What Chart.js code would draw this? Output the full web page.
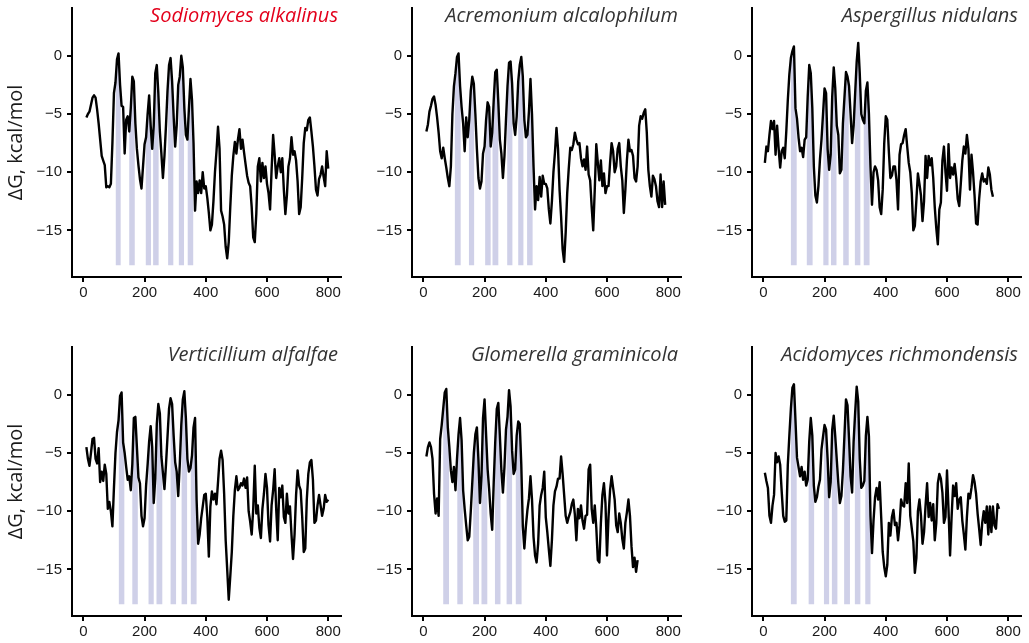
<!DOCTYPE html>
<html>
<head>
<meta charset="utf-8">
<script src="https://cdn.jsdelivr.net/npm/chart.js@4.4.1/dist/chart.umd.min.js"></script>
<style>
body { margin:0; width:1029px; height:643px; overflow:hidden; background:#fff; position:relative; }
canvas { position:absolute; }
.title { position:absolute; width:338px; text-align:right; font-family:"Open Sans", sans-serif; font-style:italic; font-size:20px; line-height:24px; color:#333; white-space:nowrap; }
</style>
</head>
<body>
<script>
// Data: ΔG along the sequence, one value every X_STEP positions
const X_STEP = 5;
const xTicks = [0, 200, 400, 600, 800];
const yTicks = [-15, -10, -5, 0];

const sodiomycesStart = 10;
const sodiomycesDG = [
  -5.3, -5.0, -4.8, -4.2, -3.6, -3.4, -3.6, -4.6, -5.8, -7.2,
  -8.6, -9.0, -9.4, -11.3, -11.2, -11.3, -11.0, -7.5, -3.2, -2.3,
  -0.3, 0.2, -2.5, -4.3, -4.4, -8.4, -5.5, -5.2, -6.5, -4.5,
  -1.8, -2.2, -5.8, -8.0, -9.4, -10.6, -11.4, -9.5, -7.6, -7.0,
  -5.0, -3.4, -6.0, -8.0, -6.0, -1.5, -0.8, -3.2, -6.5, -8.4,
  -10.5, -8.6, -6.0, -3.0, -0.8, -0.2, -2.2, -5.2, -7.8, -6.0,
  -2.5, -1.8, 0.0, -1.0, -4.5, -6.8, -7.2, -4.5, -2.0, -3.8,
  -7.5, -13.3, -10.8, -11.8, -10.7, -11.8, -10.0, -11.4, -11.2, -12.2,
  -13.5, -15.0, -14.5, -12.5, -10.0, -8.2, -6.1, -8.0, -13.3, -13.8,
  -14.5, -16.4, -17.4, -16.0, -13.0, -10.3, -8.6, -7.4, -8.4, -7.2,
  -6.3, -8.0, -7.2, -8.3, -9.3, -10.3, -10.9, -11.2, -13.0, -15.6,
  -16.0, -13.6, -9.5, -8.8, -10.8, -9.2, -10.5, -9.5, -11.0, -11.8,
  -13.2, -9.8, -6.8, -8.5, -10.5, -9.5, -8.8, -10.0, -8.8, -11.5,
  -13.6, -12.0, -9.5, -8.8, -7.0, -8.5, -8.2, -9.0, -10.8, -13.6,
  -13.0, -10.5, -7.5, -6.2, -6.4, -5.5, -5.3, -6.5, -7.8, -9.5,
  -11.5, -12.0, -10.6, -10.2, -9.5, -10.4, -11.2, -8.2, -9.7
];
const sodiomycesBands = [[106,122],[150,168],[204,221],[228,246],[277,294],[312,329],[341,359]];

const acremoniumStart = 10;
const acremoniumDG = [
  -6.5, -5.9, -4.8, -4.3, -3.7, -3.5, -4.2, -5.3, -6.6, -8.2,
  -8.8, -7.9, -8.8, -9.6, -10.5, -11.2, -9.5, -5.0, -2.6, -1.5,
  -0.1, 0.2, -2.6, -4.4, -5.8, -8.2, -5.3, -7.0, -5.5, -3.0,
  -1.8, -2.4, -5.0, -8.0, -10.5, -11.4, -10.8, -8.4, -7.8, -5.5,
  -4.0, -4.4, -7.8, -6.6, -3.8, -1.4, -1.2, -4.0, -7.2, -8.4,
  -10.5, -8.6, -5.5, -2.6, -0.6, -0.5, -2.4, -5.8, -6.8, -5.2,
  -2.2, -0.8, -0.1, -1.8, -5.5, -7.0, -6.8, -4.8, -2.0, -5.0,
  -9.5, -13.2, -11.2, -12.4, -10.4, -12.1, -10.3, -11.0, -11.0, -11.4,
  -13.2, -14.4, -12.5, -10.0, -8.3, -6.2, -8.0, -11.5, -13.8, -16.6,
  -17.7, -15.2, -11.8, -9.7, -7.9, -8.1, -7.6, -6.6, -7.2, -7.6,
  -7.5, -8.8, -9.5, -8.9, -9.8, -7.8, -10.2, -10.7, -13.0, -15.0,
  -11.5, -7.6, -9.2, -10.7, -9.0, -11.2, -10.1, -11.8, -11.2, -11.2,
  -9.2, -7.5, -8.2, -10.0, -9.5, -8.0, -7.5, -9.5, -10.7, -13.5,
  -11.5, -9.0, -7.2, -8.2, -8.1, -8.6, -10.5, -10.8, -9.5, -6.0,
  -5.2, -5.4, -4.9, -4.6, -6.6, -9.8, -11.2, -12.1, -10.3, -10.6,
  -11.2, -12.5, -13.0, -10.2, -13.0, -10.8, -12.8
];
const acremoniumBands = [[103,122],[149,166],[202,220],[226,245],[274,291],[310,327],[339,357]];

const aspergillusStart = 5;
const aspergillusDG = [
  -9.2, -7.8, -8.2, -6.8, -5.6, -6.3, -5.6, -8.5, -6.0, -8.0,
  -9.6, -8.2, -7.9, -8.8, -6.5, -3.8, -1.6, -0.2, 0.4, 0.8,
  -4.5, -5.4, -7.0, -8.2, -7.9, -8.7, -7.2, -7.0, -3.5, -0.8,
  -1.5, -4.5, -9.5, -12.0, -12.6, -11.2, -8.9, -7.2, -5.0, -2.8,
  -3.2, -8.0, -9.8, -8.5, -3.5, -1.0, -2.8, -6.0, -6.8, -10.1,
  -9.8, -5.8, -3.6, -1.4, -1.8, -2.6, -5.0, -7.5, -6.0, -3.2,
  -0.5, 1.1, -1.5, -5.0, -5.5, -5.8, -3.0, -2.3, -5.0, -9.5,
  -12.8, -10.0, -9.5, -9.8, -10.7, -13.0, -13.6, -11.5, -7.5, -5.2,
  -5.5, -8.2, -10.5, -10.3, -9.5, -9.5, -10.7, -13.2, -8.5, -7.6,
  -7.5, -6.8, -6.3, -7.8, -9.2, -10.0, -11.8, -15.0, -14.6, -12.4,
  -10.1, -11.0, -12.0, -14.2, -12.5, -8.6, -10.5, -8.6, -9.4, -8.8,
  -10.5, -13.0, -14.8, -16.2, -13.2, -12.6, -9.0, -7.8, -10.0, -11.6,
  -7.6, -10.5, -9.6, -10.2, -9.3, -10.5, -12.3, -12.9, -11.0, -9.0,
  -7.8, -8.4, -6.8, -8.0, -11.5, -8.5, -10.0, -12.0, -14.4, -14.5,
  -12.3, -10.8, -10.1, -10.8, -10.6, -11.0, -9.6, -10.2, -11.5, -12.1
];
const aspergillusBands = [[90,109],[142,161],[196,213],[221,239],[261,279],[299,317],[328,347]];

const verticilliumStart = 10;
const verticilliumDG = [
  -4.5, -5.5, -6.1, -5.0, -3.8, -3.7, -5.5, -5.9, -4.6, -7.5,
  -6.6, -7.4, -6.0, -6.8, -9.8, -9.2, -10.0, -11.3, -8.0, -5.0,
  -3.2, -2.2, -0.1, 0.2, -4.1, -5.0, -6.2, -7.3, -7.0, -8.2,
  -6.0, -2.0, -1.9, -4.5, -7.1, -7.6, -10.4, -11.3, -10.6, -7.8,
  -6.0, -4.0, -2.7, -4.5, -9.3, -7.2, -2.5, -0.8, -1.6, -5.3,
  -6.7, -8.1, -6.0, -3.6, -1.2, -0.3, -0.8, -3.5, -5.8, -6.6,
  -8.7, -6.0, -2.6, -0.4, 0.3, -2.0, -5.5, -6.6, -6.3, -5.2,
  -2.8, -2.0, -9.0, -12.8, -12.0, -10.6, -9.6, -8.6, -8.5, -10.5,
  -13.9, -9.6, -8.3, -9.0, -8.5, -9.4, -7.5, -5.5, -4.8, -5.6,
  -8.5, -12.5, -15.0, -17.6, -15.6, -13.5, -10.4, -8.2, -7.0, -8.2,
  -8.0, -7.6, -7.8, -7.2, -8.0, -7.1, -10.0, -10.9, -12.0, -9.8,
  -6.1, -10.2, -9.5, -11.4, -12.3, -9.8, -8.5, -6.8, -8.0, -11.2,
  -12.6, -9.5, -8.2, -6.4, -9.8, -12.5, -8.0, -8.8, -7.8, -10.5,
  -11.0, -8.5, -10.2, -9.6, -12.0, -14.1, -12.0, -8.6, -6.5, -7.8,
  -8.2, -10.5, -13.5, -13.2, -9.0, -6.8, -5.8, -5.6, -7.3, -11.0,
  -10.8, -9.5, -8.6, -9.5, -10.4, -9.8, -8.6, -9.2, -9.0
];
const verticilliumBands = [[116,134],[160,178],[213,230],[239,258],[285,303],[321,339],[351,370]];

const glomerellaStart = 10;
const glomerellaDG = [
  -5.3, -4.5, -4.1, -4.5, -5.5, -8.5, -10.2, -8.9, -10.4, -3.8,
  -2.6, -1.2, 0.2, 0.5, -2.8, -4.5, -6.5, -7.5, -6.2, -8.2,
  -5.5, -3.4, -2.0, -3.9, -8.2, -9.8, -11.2, -12.5, -12.2, -10.0,
  -7.5, -5.0, -3.4, -2.8, -5.6, -9.3, -7.0, -2.0, -0.4, -3.4,
  -6.4, -8.1, -10.2, -11.6, -7.5, -4.0, -1.2, -0.7, -3.5, -6.5,
  -8.4, -6.2, -3.0, -1.9, 0.4, -1.0, -4.8, -6.8, -6.4, -3.5,
  -2.3, -2.5, -6.0, -11.3, -13.2, -11.3, -9.9, -8.9, -7.0, -9.0,
  -12.2, -13.8, -14.4, -12.8, -9.5, -8.6, -8.0, -6.6, -10.5, -11.8,
  -13.3, -14.7, -12.5, -9.5, -8.3, -7.9, -7.2, -7.2, -5.3, -6.8,
  -8.6, -10.4, -11.0, -10.5, -10.1, -9.4, -9.0, -10.3, -12.5, -9.8,
  -10.6, -9.5, -10.8, -11.5, -10.4, -10.3, -6.4, -6.0, -9.8, -11.0,
  -9.5, -11.4, -14.2, -14.4, -11.0, -8.6, -7.6, -9.3, -13.8, -10.5,
  -8.2, -7.0, -8.0, -9.0, -11.2, -11.8, -10.2, -11.0, -12.4, -13.2,
  -11.0, -10.1, -9.0, -10.4, -13.0, -14.8, -14.0, -15.2, -14.2
];
const glomerellaBands = [[65,84],[111,129],[163,182],[190,209],[234,252],[272,290],[302,321]];

const acidomycesStart = 5;
const acidomycesDG = [
  -6.7, -7.4, -8.0, -10.4, -11.0, -9.5, -8.6, -5.0, -5.8, -5.3,
  -6.0, -8.3, -10.4, -10.9, -10.8, -6.0, -3.5, -1.2, 0.6, 0.9,
  -2.2, -5.4, -6.2, -7.0, -6.2, -7.3, -6.6, -7.8, -7.3, -4.0,
  -2.0, -3.5, -7.8, -9.2, -8.8, -7.9, -7.3, -4.7, -3.6, -2.6,
  -3.0, -5.5, -8.8, -7.5, -3.0, -1.8, -3.6, -5.6, -7.6, -9.3,
  -8.7, -6.5, -3.5, -0.4, -0.9, -3.8, -7.0, -8.4, -4.0, -1.5,
  0.7, -0.6, -5.5, -8.0, -7.8, -7.4, -3.5, -1.9, -3.6, -10.4,
  -13.6, -10.8, -8.8, -8.0, -9.0, -7.5, -10.5, -13.5, -14.8, -15.6,
  -14.6, -11.0, -12.1, -10.5, -9.9, -11.2, -11.0, -12.5, -11.2, -9.0,
  -9.5, -9.6, -7.6, -9.3, -5.9, -10.4, -11.5, -12.6, -15.3, -14.0,
  -10.0, -9.0, -10.4, -12.8, -11.8, -9.5, -7.6, -10.5, -9.3, -10.8,
  -9.4, -12.5, -11.0, -7.6, -6.8, -7.2, -8.4, -11.0, -10.5, -6.5,
  -9.9, -13.8, -10.5, -7.8, -8.7, -7.6, -9.8, -9.0, -8.8, -10.8,
  -12.0, -13.3, -10.5, -8.5, -8.9, -8.0, -6.9, -7.5, -8.5, -10.2,
  -11.5, -12.9, -11.0, -10.0, -11.0, -9.6, -12.0, -9.6, -11.8, -9.6,
  -11.2, -11.5, -9.4, -9.8
];
const acidomycesBands = [[90,109],[148,166],[198,215],[224,242],[264,283],[299,317],[333,350]];

// Panels
const panels = [
  { name: "Sodiomyces alkalinus", start: sodiomycesStart, dg: sodiomycesDG, bands: sodiomycesBands, left: 0, top: 0, red: true },
  { name: "Acremonium alcalophilum", start: acremoniumStart, dg: acremoniumDG, bands: acremoniumBands, left: 340, top: 0 },
  { name: "Aspergillus nidulans", start: aspergillusStart, dg: aspergillusDG, bands: aspergillusBands, left: 680, top: 0 },
  { name: "Verticillium alfalfae", start: verticilliumStart, dg: verticilliumDG, bands: verticilliumBands, left: 0, top: 339 },
  { name: "Glomerella graminicola", start: glomerellaStart, dg: glomerellaDG, bands: glomerellaBands, left: 340, top: 339 },
  { name: "Acidomyces richmondensis", start: acidomycesStart, dg: acidomycesDG, bands: acidomycesBands, left: 680, top: 339 }
];

const SHADE = "#cfd0e8";
const SHADE_FLOOR = -18;
const tickFont = { family: '"Liberation Sans", Arial, sans-serif', size: 15 };

function drawPanel(p){
    const canvas = document.createElement("canvas");
    canvas.width = 342; canvas.height = 304;
    canvas.style.left = p.left + "px";
    canvas.style.top = p.top + "px";
    document.body.appendChild(canvas);

    const title = document.createElement("div");
    title.className = "title";
    title.textContent = p.name;
    title.style.left = p.left + "px";
    title.style.top = (p.top + 3) + "px";
    if(p.red) title.style.color = "#e3001b";
    document.body.appendChild(title);

    const points = p.dg.map((v, i) => ({ x: p.start + i * X_STEP, y: v }));
    const shaded = points.map(pt => ({ x: pt.x, y: pt.y }));
    const showYTitle = p.left === 0;

    // the shade (dataset 1) is filled under the curve and only kept inside the bands
    const bandClip = {
        id: "bandClip",
        beforeDatasetsDraw(chart){
            const ctx = chart.ctx, xs = chart.scales.x, area = chart.chartArea;
            ctx.save();
            ctx.beginPath();
            p.bands.forEach(b => {
                const x0 = xs.getPixelForValue(b[0]), x1 = xs.getPixelForValue(b[1]);
                ctx.rect(x0, area.top, x1 - x0, area.bottom - area.top);
            });
            ctx.clip();
        },
        afterDatasetDraw(chart, args){
            if(args.index === 1) chart.ctx.restore();
        }
    };

    new Chart(canvas, {
        type: "line",
        data: { datasets: [
            { data: points, borderColor: "#000", borderWidth: 2.4, borderJoinStyle: "round", pointRadius: 0, fill: false, order: 1 },
            { data: shaded, borderColor: "rgba(0,0,0,0)", borderWidth: 0, backgroundColor: SHADE, pointRadius: 0, fill: { value: SHADE_FLOOR }, order: 2 }
        ]},
        options: {
            responsive: false, animation: false, devicePixelRatio: 1,
            layout: { padding: { top: 8, left: 0, right: 0, bottom: 0 } },
            plugins: { legend: { display: false }, tooltip: { enabled: false } },
            scales: {
                x: {
                    type: "linear", min: -37, max: 845,
                    afterBuildTicks: s => { s.ticks = xTicks.map(v => ({ value: v })); },
                    afterFit: s => { s.height = 27; s.paddingLeft = 0; s.paddingRight = 0; },
                    grid: { drawOnChartArea: false, drawTicks: true, tickLength: 5, color: "#000", lineWidth: 2 },
                    border: { display: true, color: "#000", width: 2 },
                    ticks: { color: "#1a1a1a", font: tickFont, padding: 2, maxRotation: 0, autoSkip: false }
                },
                y: {
                    min: -19, max: 4.1,
                    afterBuildTicks: s => { s.ticks = yTicks.map(v => ({ value: v })); },
                    afterFit: s => { s.width = 72; s.paddingTop = 0; s.paddingBottom = 0; },
                    grid: { drawOnChartArea: false, drawTicks: true, tickLength: 5, color: "#000", lineWidth: 2 },
                    border: { display: true, color: "#000", width: 2 },
                    ticks: { color: "#1a1a1a", font: tickFont, padding: 5, callback: v => String(v).replace("-", "\u2212") },
                    title: { display: showYTitle, text: "ΔG, kcal/mol", color: "#1a1a1a", font: { family: '"Open Sans", sans-serif', size: 20 }, padding: { top: 4, bottom: 0 } }
                }
            }
        },
        plugins: [bandClip]
    });
}

panels.forEach(drawPanel);
</script>
</body>
</html>
